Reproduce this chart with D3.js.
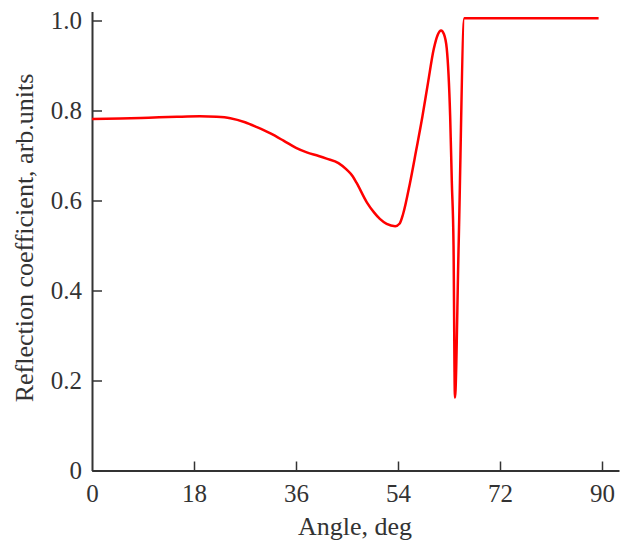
<!DOCTYPE html>
<html>
<head>
<meta charset="utf-8">
<script src="https://cdn.jsdelivr.net/npm/d3@7"></script>
<style>
  body { margin: 0; background: #fff; }
  text { font-family: "Liberation Serif", "Times New Roman", serif; fill: #333; }
</style>
</head>
<body>
<div id="container"></div>
<script>
// angle (deg) and reflection coefficient
var angles = [0, 5, 10, 15, 19, 22, 24.4, 27, 29.1, 31.5, 33.8, 36, 37.9, 40, 41.4, 43.5, 44.9,
  46, 46.7, 48.5, 49.8, 50.8, 52, 53.5, 54.3, 54.9, 56.1, 57.2, 58.3, 59.3, 60.3, 61, 61.6,
  62.1, 62.6, 63.2, 63.5, 63.8, 64.05, 64.7, 65.7, 75, 89.4];
var refl = [0.781, 0.782, 0.784, 0.786, 0.787, 0.786, 0.783, 0.774, 0.763, 0.749, 0.733, 0.717, 0.707, 0.699, 0.693, 0.683, 0.669,
  0.654, 0.639, 0.596, 0.573, 0.559, 0.548, 0.543, 0.549, 0.570, 0.638, 0.711, 0.786, 0.862, 0.936, 0.968, 0.978,
  0.97, 0.938, 0.789, 0.64, 0.50, 0.162, 0.50, 1.005, 1.005, 1.005];

var xTicks = [0, 18, 36, 54, 72, 90];
var yTicks = [0, 0.2, 0.4, 0.6, 0.8, 1.0];

var width = 626, height = 545;

var svg = d3.select("#container").append("svg")
  .attr("width", width)
  .attr("height", height);

var x = d3.scaleLinear().domain([0, 93]).range([92, 619]);
var y = d3.scaleLinear().domain([0, 1.02]).range([470.5, 11.5]);

var data = angles.map(function(a, i) { return { a: a, r: refl[i] }; });

//x軸
var gx = svg.append("g")
  .attr("transform", "translate(0," + y(0) + ")")
  .call(d3.axisBottom(x).tickValues(xTicks).tickSize(-9).tickSizeOuter(0).tickPadding(14)
    .tickFormat(d3.format("d")));

//y軸
var gy = svg.append("g")
  .attr("transform", "translate(" + x(0) + ",0)")
  .call(d3.axisLeft(y).tickValues(yTicks).tickSize(-10).tickSizeOuter(0).tickPadding(10)
    .tickFormat(function(d) { return d === 0 ? "0" : d3.format(".1f")(d); }));

[gx, gy].forEach(function(g) {
  g.select(".domain").attr("stroke", "#333").attr("stroke-width", 2);
  g.selectAll(".tick line").attr("stroke", "#333").attr("stroke-width", 1.5);
  g.selectAll(".tick text").attr("font-size", 25).attr("fill", "#333")
    .attr("font-family", "'Liberation Serif', 'Times New Roman', serif");
});
gx.selectAll(".tick").filter(function(d) { return d === 0; }).select("line").remove();

//曲線
var line = d3.line()
  .x(function(d) { return x(d.a); })
  .y(function(d) { return y(d.r); })
  .curve(d3.curveMonotoneX);

svg.append("path")
  .datum(data)
  .attr("fill", "none")
  .attr("stroke", "#f00")
  .attr("stroke-width", 2.5)
  .attr("stroke-linejoin", "round")
  .attr("d", line);

//軸ラベル
svg.append("text")
  .attr("x", 355)
  .attr("y", 535)
  .attr("text-anchor", "middle")
  .attr("font-size", 26)
  .text("Angle, deg");

svg.append("text")
  .attr("transform", "translate(33,238) rotate(-90)")
  .attr("text-anchor", "middle")
  .attr("font-size", 26)
  .text("Reflection coefficient, arb.units");
</script>
</body>
</html>
